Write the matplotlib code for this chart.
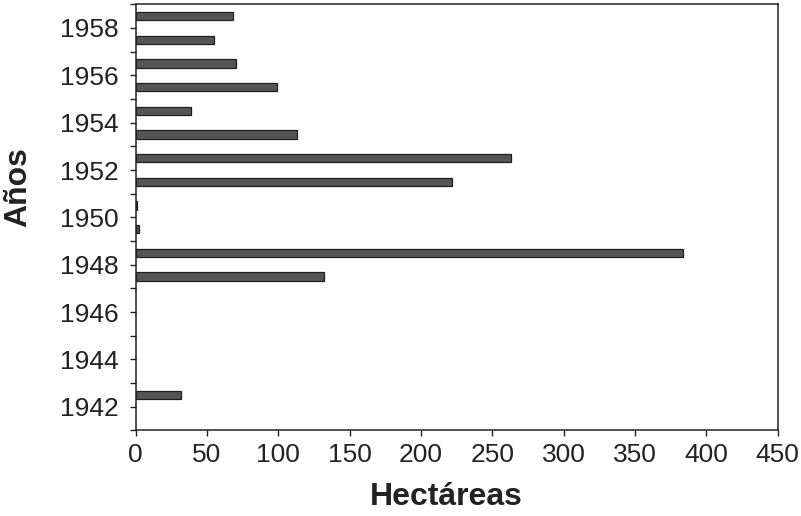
import matplotlib
matplotlib.use("Agg")
import matplotlib.pyplot as plt

# Superficie por año (hectáreas)
years = [1942, 1943, 1944, 1945, 1946, 1947, 1948, 1949, 1950,
         1951, 1952, 1953, 1954, 1955, 1956, 1957, 1958]
hectares = [32, 0, 0, 0, 0, 132, 384, 2, 1,
            222, 263, 113, 39, 99, 70, 55, 68]

x_ticks = [0, 50, 100, 150, 200, 250, 300, 350, 400, 450]
y_label_years = [1942, 1944, 1946, 1948, 1950, 1952, 1954, 1956, 1958]

plt.rcParams['font.family'] = ['Liberation Sans', 'DejaVu Sans']
ink = '#222222'

fig = plt.figure(figsize=(8.01, 5.16), dpi=100)
ax = fig.add_axes([0.1694, 0.1657, 0.8013, 0.8260])

# bars sit between the year ticks, empty years get no outline
pos = [y + 0.5 for y in years]
widths = [0.9 if v > 0 else 0 for v in hectares]
ax.barh(pos, hectares, height=0.36, color='#555555',
        edgecolor='#1e1e1e', linewidth=widths)

ax.set_xlim(0, 450)
ax.set_ylim(1941, 1959)
ax.set_xticks(x_ticks)
ax.set_xticklabels([str(v) for v in x_ticks])

all_ticks = list(range(1941, 1960))
ax.set_yticks(all_ticks)
ax.set_yticklabels([str(t) if t in y_label_years else '' for t in all_ticks])

for s in ax.spines.values():
    s.set_color(ink)
    s.set_linewidth(1.1)

ax.tick_params(axis='both', direction='out', length=4, width=1,
               colors=ink, labelsize=19)
ax.tick_params(axis='y', pad=8)
ax.tick_params(axis='x', pad=5)

fig.text(0.557, 0.037, 'Hectáreas', ha='center', va='center',
         fontsize=23, fontweight='bold', color=ink)
fig.text(0.023, 0.637, 'Años', ha='center', va='center', rotation=90,
         fontsize=23, fontweight='bold', color=ink)

fig.savefig('out.png', dpi=100)
